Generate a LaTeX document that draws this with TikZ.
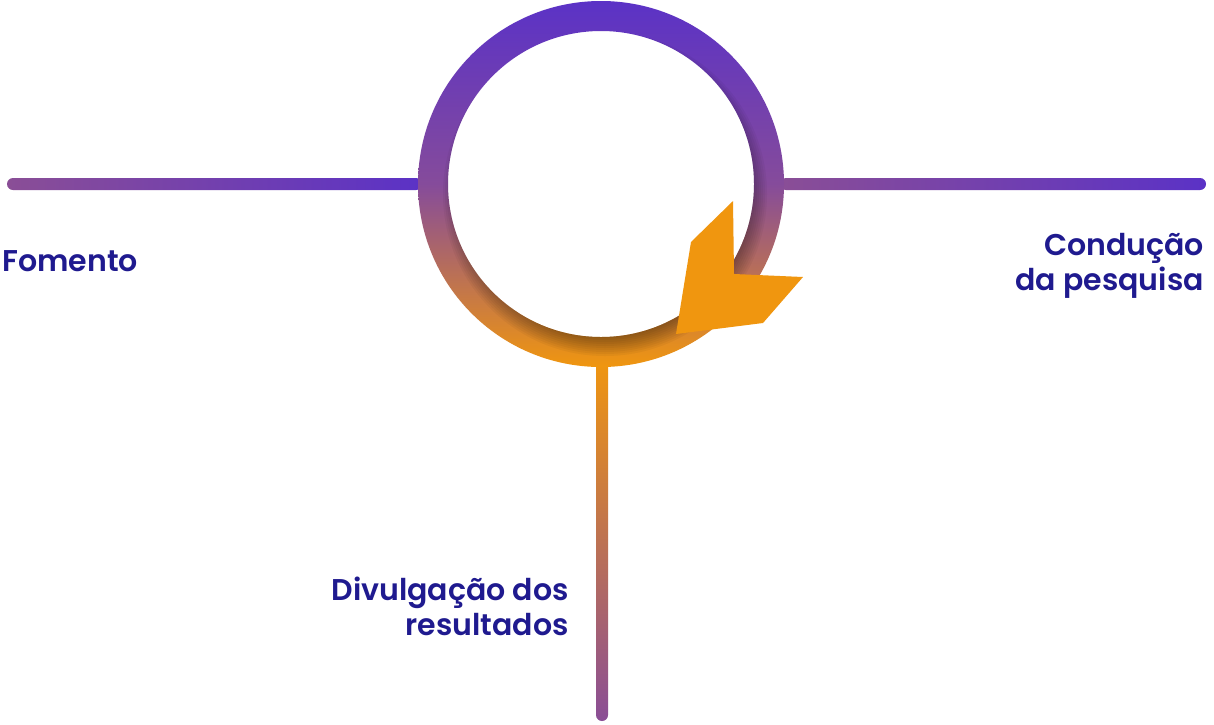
\documentclass[tikz,border=0pt]{standalone}
\usepackage{fontspec}
\setmainfont{Poppins}[BoldFont={Poppins SemiBold}]
\usetikzlibrary{calc}
\usepackage{xcolor}

\definecolor{cyclePurple}{HTML}{5B32C6}
\definecolor{cycleMauve}{HTML}{8A4E96}
\definecolor{cycleOrange}{HTML}{F0960F}
\definecolor{labelBlue}{HTML}{1F1A8F}

\begin{document}
\begin{tikzpicture}[
    x=1pt, y=-1pt,
    every node/.style={font=\fontsize{30}{35}\selectfont\bfseries, text=labelBlue, inner sep=0pt}
]

% Canvas
\useasboundingbox (0,0) rectangle (1214,724);
\fill[white] (0,0) rectangle (1214,724);

% Ring geometry
\def\outerr{183}
\def\innerr{153}
\coordinate (hub) at (601,184);

% Left branch (Fomento)
\shade[left color=cycleMauve, right color=cyclePurple, rounded corners=6]
    (7,178) rectangle (422,190);

% Right branch (Conducao)
\shade[left color=cycleMauve, right color=cyclePurple, rounded corners=6]
    (780,178) rectangle (1206,190);

% Bottom branch (Divulgacao)
\shade[top color=cycleOrange, bottom color=cycleMauve, rounded corners=6]
    (596,360) rectangle (608,721);

% Ring with vertical gradient
\shade[top color=cyclePurple, bottom color=cycleOrange, middle color=cycleMauve!90!cyclePurple, even odd rule]
    (hub) circle (\outerr) (hub) circle (\innerr);

% Soft shadow under the inner disc
\begin{scope}[even odd rule]
    \clip (hub) circle (\outerr) (hub) circle (\innerr);
    \foreach \r in {140,142,...,162} {
        \fill[black, opacity=0.04] ($(hub)+(4,10)$) circle (\r);
    }
\end{scope}

% Arrow head
\fill[cycleOrange]
    (733,201) -- (691,242) -- (676,334) -- (763,323) -- (803,277) -- (734,274) -- cycle;

% Labels
\node[anchor=west] (fomento) at (2,261) {Fomento};
\node[anchor=east, align=right] (conducao) at (1204,266) {Condução\\da pesquisa};
\node[anchor=east, align=right] (divulgacao) at (569,606) {Divulgação dos\\resultados};

\end{tikzpicture}
\end{document}
